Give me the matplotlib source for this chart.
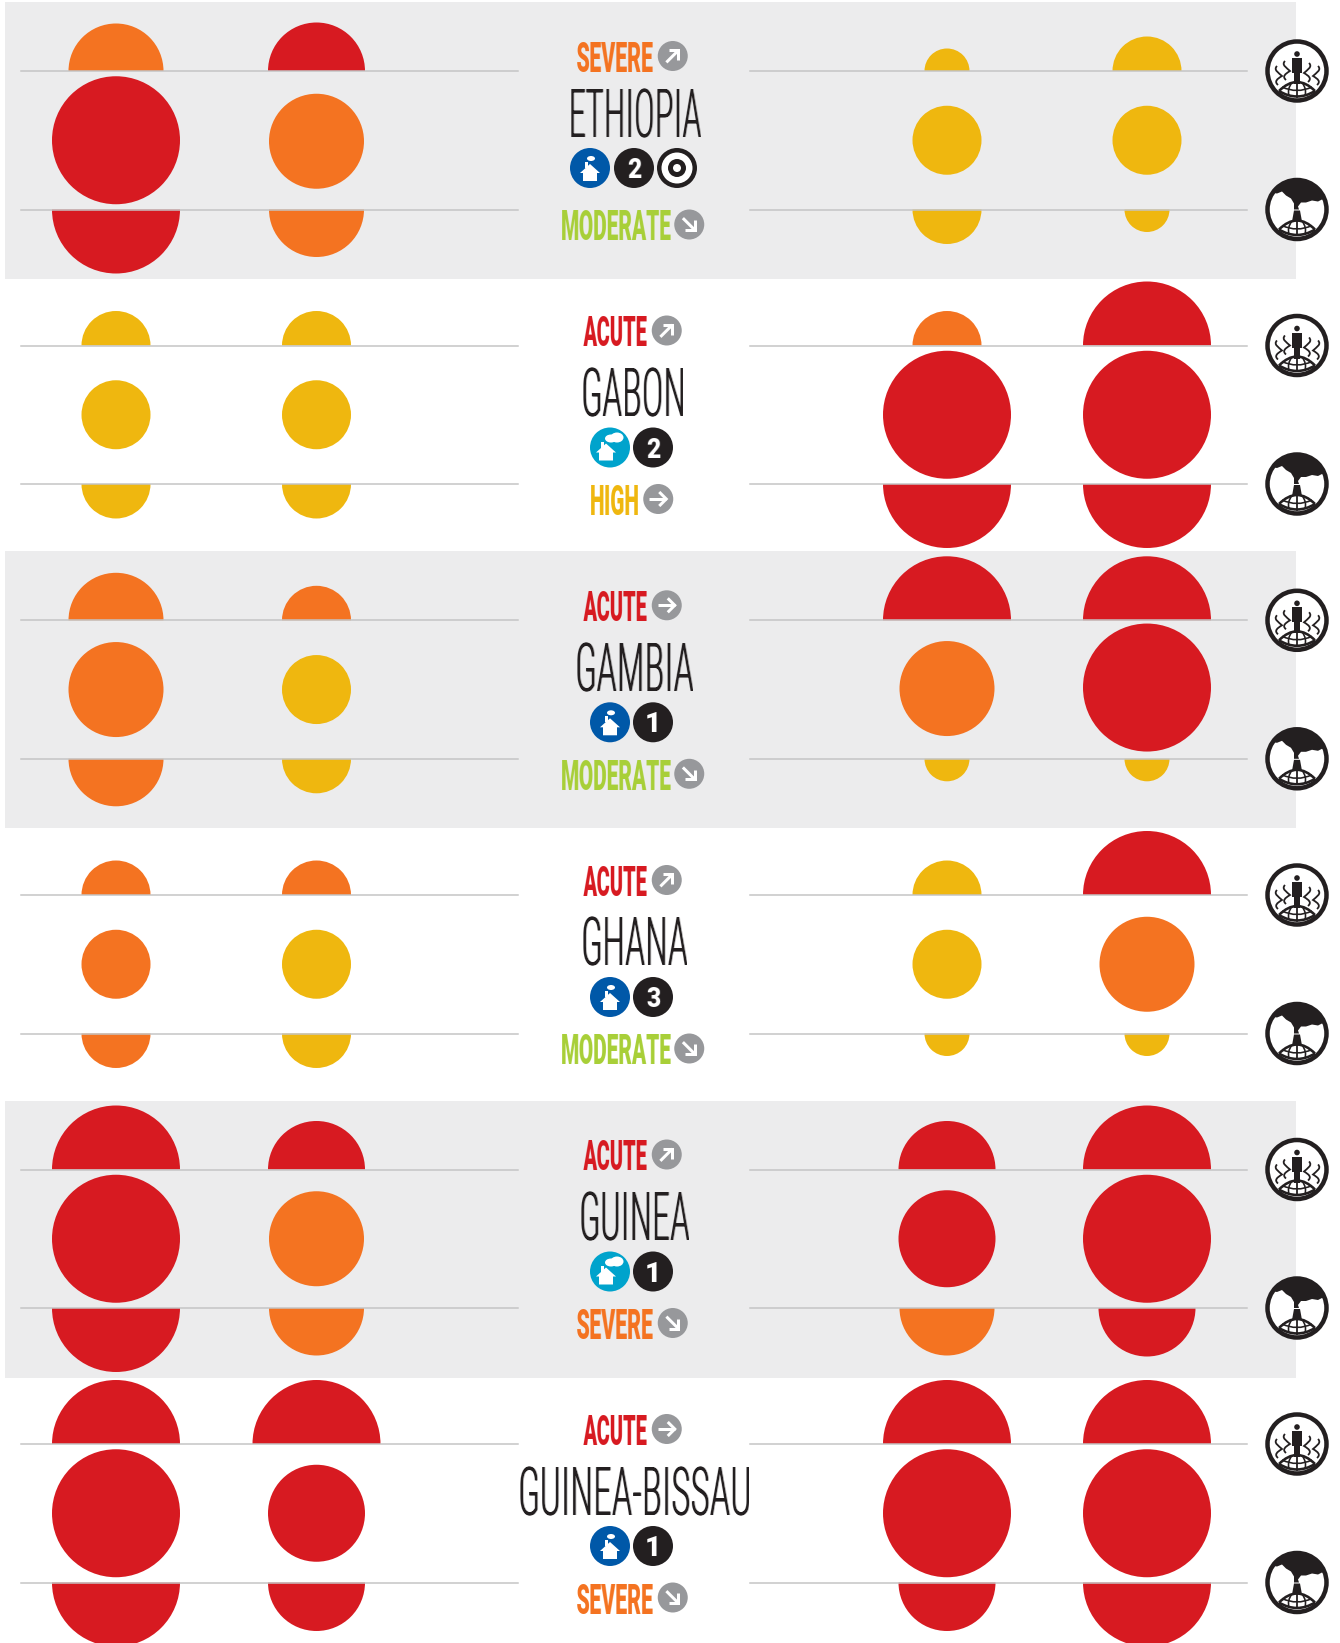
import numpy as np
import matplotlib
matplotlib.use("Agg")
import matplotlib.pyplot as plt
from matplotlib.patches import Circle, Wedge, Rectangle, Polygon, Ellipse, PathPatch
from matplotlib.path import Path
from matplotlib.colors import to_rgb

# data
countries = ["ETHIOPIA", "GABON", "GAMBIA", "GHANA", "GUINEA", "GUINEA-BISSAU"]
status_top = ["SEVERE", "ACUTE", "ACUTE", "ACUTE", "ACUTE", "ACUTE"]
status_bottom = ["MODERATE", "HIGH", "MODERATE", "MODERATE", "SEVERE", "SEVERE"]
arrow_top = ["ne", "ne", "e", "ne", "ne", "e"]
arrow_bottom = ["se", "e", "se", "se", "se", "se"]
house_kind = ["dark", "light", "dark", "dark", "light", "dark"]
rank = ["2", "2", "1", "3", "1", "1"]
has_target = [True, False, False, False, False, False]

# circle size level, 4 columns per country
top_size = [[3, 3, 1, 2], [2, 2, 2, 4], [3, 2, 4, 4], [2, 2, 2, 4], [4, 3, 3, 4], [4, 4, 4, 4]]
mid_size = [[4, 3, 2, 2], [2, 2, 4, 4], [3, 2, 3, 4], [2, 2, 2, 3], [4, 3, 3, 4], [4, 3, 4, 4]]
bot_size = [[4, 3, 2, 1], [2, 2, 4, 4], [3, 2, 1, 1], [2, 2, 1, 1], [4, 3, 3, 3], [4, 3, 3, 4]]

# circle colour level
top_col = [["S", "A", "H", "H"], ["H", "H", "S", "A"], ["S", "S", "A", "A"],
           ["S", "S", "H", "A"], ["A", "A", "A", "A"], ["A", "A", "A", "A"]]
mid_col = [["A", "S", "H", "H"], ["H", "H", "A", "A"], ["S", "H", "S", "A"],
           ["S", "H", "H", "S"], ["A", "S", "A", "A"], ["A", "A", "A", "A"]]
bot_col = [["A", "S", "H", "H"], ["H", "H", "A", "A"], ["S", "H", "H", "H"],
           ["S", "H", "H", "H"], ["A", "S", "S", "A"], ["A", "A", "A", "A"]]

# styles and layout
radius = {1: 22.5, 2: 34.5, 3: 47.5, 4: 64}
colors = {"A": "#D71A21", "S": "#F47321", "H": "#EFB70F"}
status_color = {"ACUTE": "#D71A21", "SEVERE": "#F47321", "HIGH": "#EFB70F", "MODERATE": "#A8CF38"}
status_width = {"ACUTE": 64, "SEVERE": 76, "HIGH": 47, "MODERATE": 109}
name_width = {"ETHIOPIA": 130, "GABON": 100, "GAMBIA": 116, "GHANA": 104, "GUINEA": 108, "GUINEA-BISSAU": 229}
name_off = [42.5, 47.5, 47.5, 47.5, 47.5, 48]
icon_off = [97, 102, 102, 102, 102, 102]
rank_width = {"1": 10, "2": 14, "3": 14}
col_x = [116, 316.5, 947, 1147]
line_top = [71, 345.5, 620.3, 895, 1169.5, 1444]
line_gap = 138.5
mid_shift = {(0, 1): 1, (2, 2): -1, (2, 3): -2}
band_rows = [(2, 277), (551, 277), (1101, 277)]
band_color = "#ECECED"
line_color = "#C4C4C4"
ink = "#231F20"
grey = "#97989B"
px = 0.72  # 1 px in points at dpi 100

fig = plt.figure(figsize=(13.4, 16.43), dpi=100)
ax = fig.add_axes([0, 0, 1, 1])
ax.set_xlim(0, 1340)
ax.set_ylim(1643, 0)
ax.axis("off")


def size_px(level, col):
    # the mid red circles are drawn a touch bigger than the orange ones
    return radius[level] + 1 if (level == 3 and col == "A") else radius[level]


def squeeze(width, color, grow):
    # text is drawn normally then squashed sideways to the condensed width
    rgb = to_rgb(color)

    def f(img, dpi):
        h, w = img.shape[:2]
        edges = np.linspace(0, w, width + 1)
        a = np.cumsum(np.hstack([np.zeros((h, 1)), img[:, :, 3]]), axis=1)
        out = np.zeros((h, width, 4))
        out[:, :, :3] = rgb
        for r in range(h):
            c = np.interp(edges, np.arange(w + 1), a[r])
            out[r, :, 3] = np.diff(c) / np.diff(edges)
        if grow:
            out[:, 1:, 3] = np.clip(out[:, 1:, 3] + grow * out[:, :-1, 3], 0, 1)
        return out, int((w - width) / 2), 0
    return f


def tall_text(x, y, s, width, cap, color, family, weight, grow=0):
    size = cap / 0.711 * px
    t = ax.text(x, y + cap / 2, s, ha="center", va="baseline", fontsize=size, color=color,
                family=family, weight=weight, zorder=6)
    t.set_agg_filter(squeeze(width, color, grow))


def arrow_badge(x, y, kind):
    ax.add_patch(Circle((x, y), 15, fc=grey, ec="none", zorder=5))
    ang = {"e": 0, "ne": -45, "se": 45}[kind]
    c, s = np.cos(np.radians(ang)), np.sin(np.radians(ang))
    for seg in ([(-9, 0), (8, 0)], [(1, -7), (8, 0), (1, 7)]):
        xs = [x + c * a - s * b for a, b in seg]
        ys = [y + s * a + c * b for a, b in seg]
        ax.plot(xs, ys, color="white", lw=3 * px, solid_capstyle="butt", solid_joinstyle="miter", zorder=6)


def status_label(y, label, kind):
    w = status_width[label]
    left = 632.5 - (w + 34.5) / 2
    tall_text(left + w / 2, y, label, w, 30, status_color[label], "Roboto", 900)
    arrow_badge(left + w + 19.5, y - 1, kind)


def house_badge(x, y, kind):
    ax.add_patch(Circle((x, y), 20, fc="#0058A8" if kind == "dark" else "#00A3CC", ec="none", zorder=5))
    dx = 0 if kind == "dark" else -4
    ax.add_patch(Polygon([(x + dx, y - 4), (x + dx + 10, y + 5), (x + dx + 7, y + 5), (x + dx + 7, y + 13),
                          (x + dx - 7, y + 13), (x + dx - 7, y + 5), (x + dx - 10, y + 5)],
                         fc="white", ec="none", zorder=6))
    ax.add_patch(Rectangle((x + dx - 5, y - 6), 2.5, 6, fc="white", ec="none", zorder=6))
    if kind == "dark":
        ax.add_patch(Ellipse((x + 1, y - 9.5), 8, 5, fc="white", ec="none", zorder=6))
    else:
        ax.add_patch(Ellipse((x + 1, y - 9), 12, 8, fc="white", ec="none", zorder=6))
        ax.add_patch(Ellipse((x + 7, y - 10), 13, 10, fc="white", ec="none", zorder=6))


def rank_badge(x, y, s):
    ax.add_patch(Circle((x, y), 20, fc=ink, ec="none", zorder=5))
    tall_text(x, y, s, rank_width[s], 20, "white", "Roboto", 900)


def target_badge(x, y):
    for r, c in ((20, ink), (15.5, "white"), (9, ink), (4, "white")):
        ax.add_patch(Circle((x, y), r, fc=c, ec="none", zorder=5))


def curve(x, y, pts, lw):
    verts = [(x + a, y + b) for a, b in pts]
    codes = [Path.MOVETO] + [Path.CURVE3] * (len(pts) - 1)
    ax.add_patch(PathPatch(Path(verts, codes), fc="none", ec=ink, lw=lw * px, capstyle="butt", zorder=7))


def globe(x, y):
    curve(x, y, [(-18, 20), (-9, 11), (0, 11), (9, 11), (18, 20)], 2.6)
    curve(x, y, [(-18, 20), (0, 31), (18, 20)], 2.6)
    curve(x, y, [(-15, 16), (0, 23), (15, 16)], 1.6)
    ax.plot([x, x], [y + 11, y + 25.5], color=ink, lw=1.8 * px, zorder=7)
    curve(x, y, [(-5, 11.5), (-10, 18), (-8, 25)], 1.6)
    curve(x, y, [(5, 11.5), (10, 18), (8, 25)], 1.6)


def wave(x, y, flip):
    pts = [(0, -9), (-4, -5), (2, -2), (5, 1), (0, 4), (-3, 6.5), (1, 10)]
    verts = [(x + flip * a, y + b) for a, b in pts]
    codes = [Path.MOVETO] + [Path.CURVE4] * 6
    ax.add_patch(PathPatch(Path(verts, codes), fc="none", ec=ink, lw=1.8 * px, zorder=7))


def people_icon(x, y):
    ax.add_patch(Circle((x, y), 29.5, fc="white", ec=ink, lw=4.5 * px, zorder=5))
    ax.add_patch(Circle((x, y - 17), 2.8, fc=ink, ec="none", zorder=7))
    ax.add_patch(Polygon([(x - 5, y - 13), (x + 5, y - 13), (x + 5, y + 2), (x + 3, y + 2), (x + 3, y + 13),
                          (x - 3, y + 13), (x - 3, y + 2), (x - 5, y + 2)], fc=ink, ec="none", zorder=7))
    wave(x - 12, y - 1, 1)
    wave(x - 20, y + 4, 1)
    wave(x + 12, y + 1, -1)
    wave(x + 21, y + 4, -1)
    globe(x, y)


def smoke_icon(x, y):
    ax.add_patch(Circle((x, y), 29.5, fc="white", ec=ink, lw=4.5 * px, zorder=5))
    clip = Circle((x, y), 29, transform=ax.transData)
    pts = [(-32, -32), (32, -32), (32, -9), (25, -10), (21, -8), (15, -9), (9, -7), (4, -7), (1, -3), (2, 0),
           (-3, 0), (-3, -6), (-6, -11), (-11, -14), (-15, -18), (-20, -16), (-26, -17), (-32, -14)]
    smoke = Polygon([(x + a, y + b) for a, b in pts], fc=ink, ec="none", zorder=6)
    ax.add_patch(smoke)
    smoke.set_clip_path(clip)
    ax.add_patch(Polygon([(x - 3, y + 1), (x + 3, y + 1), (x + 5, y + 12), (x - 5, y + 12)],
                         fc=ink, ec="none", zorder=6))
    globe(x, y)


# bands
for top, height in band_rows:
    ax.add_patch(Rectangle((5, top), 1291, height, fc=band_color, ec="none", zorder=0))

for i, name in enumerate(countries):
    y1 = line_top[i]
    y2 = y1 + line_gap
    ym = (y1 + y2) / 2

    for j, x in enumerate(col_x):
        ax.add_patch(Wedge((x, y1), size_px(top_size[i][j], top_col[i][j]), 180, 360,
                           fc=colors[top_col[i][j]], ec="none", zorder=2))
        ax.add_patch(Circle((x, ym + mid_shift.get((i, j), 0)), size_px(mid_size[i][j], mid_col[i][j]),
                            fc=colors[mid_col[i][j]], ec="none", zorder=2))
        ax.add_patch(Wedge((x, y2), size_px(bot_size[i][j], bot_col[i][j]), 0, 180,
                           fc=colors[bot_col[i][j]], ec="none", zorder=2))

    for y in (y1, y2):
        ax.plot([20.5, 518], [y, y], color=line_color, lw=1.5 * px, zorder=3)
        ax.plot([749.5, 1246.5], [y, y], color=line_color, lw=1.5 * px, zorder=3)

    # middle column
    status_label(y1 - 14, status_top[i], arrow_top[i])
    tall_text(634, y1 + name_off[i], name, name_width[name], 47, ink, "Roboto Condensed", 300, grow=0.45)
    status_label(y1 + 154.5, status_bottom[i], arrow_bottom[i])

    if has_target[i]:
        house_badge(590, y1 + icon_off[i], house_kind[i])
        rank_badge(634, y1 + icon_off[i], rank[i])
        target_badge(677, y1 + icon_off[i])
    else:
        house_badge(610, y1 + icon_off[i], house_kind[i])
        rank_badge(653, y1 + icon_off[i], rank[i])

    people_icon(1297, y1)
    smoke_icon(1297, y2)

fig.savefig("out.png", dpi=100)
